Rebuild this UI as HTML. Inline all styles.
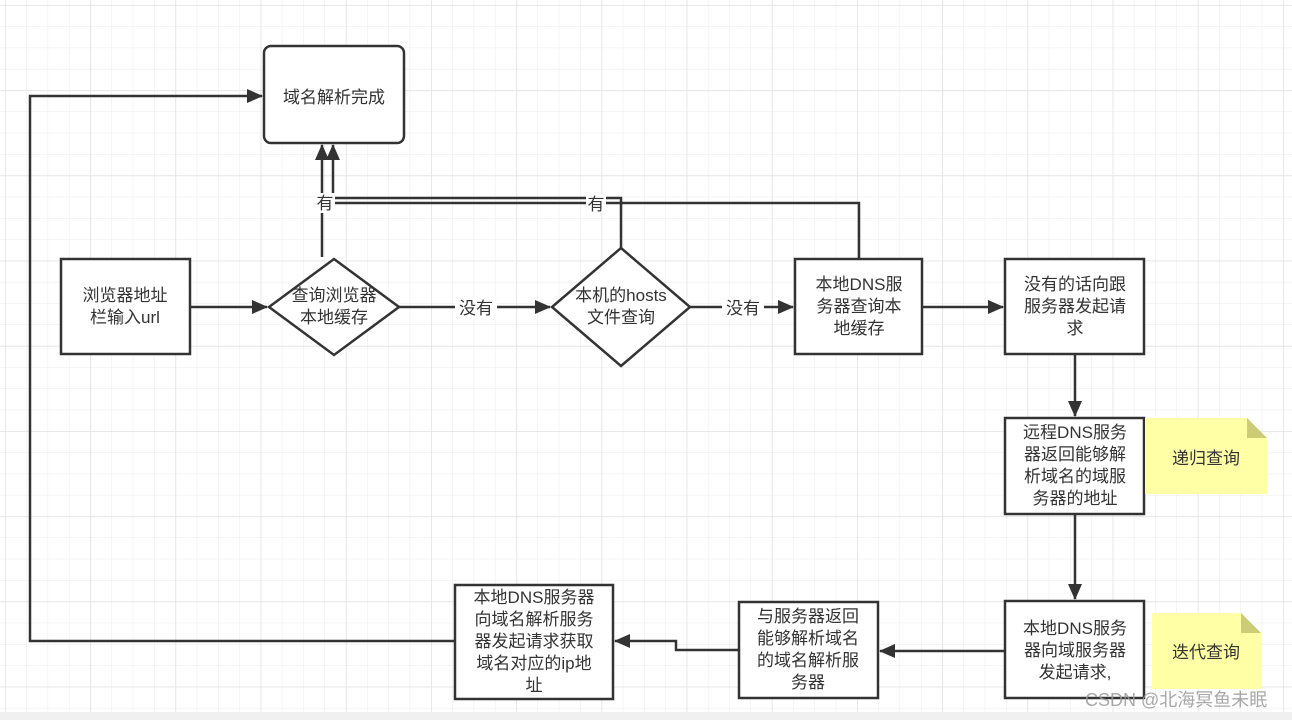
<!DOCTYPE html>
<html><head><meta charset="utf-8"><style>
html,body{margin:0;padding:0;width:1292px;height:720px;overflow:hidden;background:#fff}
svg{position:absolute;left:0;top:0}
text{font-family:"Liberation Sans","Noto Sans CJK SC",sans-serif;font-size:17px;fill:#333}
</style></head><body>
<svg width="1292" height="720" xmlns="http://www.w3.org/2000/svg">
<defs>
<pattern id="g" width="21.3" height="21.3" patternUnits="userSpaceOnUse" x="5" y="5">
<path d="M0 0H21.3M0 0V21.3" stroke="#ebebeb" stroke-width="1" fill="none"/>
</pattern>
<pattern id="G" width="85.2" height="85.2" patternUnits="userSpaceOnUse" x="5" y="5">
<path d="M0 0H85.2M0 0V85.2" stroke="#e2e2e2" stroke-width="1.5" fill="none"/>
</pattern>
<marker id="b" markerWidth="16" markerHeight="14" refX="15" refY="7" orient="auto" markerUnits="userSpaceOnUse">
<path d="M0 0L16 7L0 14Z" fill="#333"/>
</marker>
</defs>
<rect width="1292" height="720" fill="url(#g)"/>
<rect width="1292" height="720" fill="url(#G)"/>
<rect x="0" y="712" width="1292" height="8" fill="#f0f0f0"/>
<g stroke="#333" stroke-width="2.5" fill="none">
<path d="M455 641H30V96H262" marker-end="url(#b)"/>
<path d="M190 307H267" marker-end="url(#b)"/>
<path d="M399 307H550" marker-end="url(#b)"/>
<path d="M690 307H793" marker-end="url(#b)"/>
<path d="M922 307H1003" marker-end="url(#b)"/>
<path d="M322 257V145" marker-end="url(#b)"/>
<path d="M621 248V198H333" />
<path d="M859 259V203H333V145" marker-end="url(#b)"/>
<path d="M1075 354V416" marker-end="url(#b)"/>
<path d="M1075 514V599" marker-end="url(#b)"/>
<path d="M1005 651H880" marker-end="url(#b)"/>
<path d="M739 650H676V641H615" marker-end="url(#b)"/>
</g>
<g stroke="#333" stroke-width="2.5" fill="#fff">
<rect x="264" y="46" width="140" height="97" rx="7"/>
<rect x="61" y="259" width="129" height="95"/>
<path d="M334 259L399 307L334 355L269 307Z"/>
<path d="M621 248L690 307L621 366L552 307Z"/>
<rect x="795" y="259" width="127" height="95"/>
<rect x="1005" y="259" width="139" height="95"/>
<rect x="1005" y="418" width="139" height="96"/>
<rect x="1005" y="601" width="139" height="97"/>
<rect x="739" y="602" width="139" height="96"/>
<rect x="455" y="585" width="158" height="114"/>
</g>
<path d="M1145 418H1247L1267 438V494H1145Z" fill="#ffffa6"/>
<path d="M1247 418L1267 438H1247Z" fill="#cccc77"/>
<path d="M1152 613H1241L1261 633V689H1152Z" fill="#ffffa6"/>
<path d="M1241 613L1261 633H1241Z" fill="#cccc77"/>
<rect x="315" y="193" width="20" height="20" fill="#fff"/>
<rect x="586" y="194" width="20" height="20" fill="#fff"/>
<rect x="455" y="297" width="42" height="22" fill="#fff"/>
<rect x="722" y="297" width="42" height="22" fill="#fff"/>
<g text-anchor="middle">
<text x="334" y="103">域名解析完成</text>
<text x="125" y="301">浏览器地址</text><text x="125" y="323">栏输入url</text>
<text x="334" y="301">查询浏览器</text><text x="334" y="323">本地缓存</text>
<text x="621" y="301">本机的hosts</text><text x="621" y="323">文件查询</text>
<text x="859" y="290">本地DNS服</text><text x="859" y="312">务器查询本</text><text x="859" y="334">地缓存</text>
<text x="1075" y="290">没有的话向跟</text><text x="1075" y="312">服务器发起请</text><text x="1075" y="334">求</text>
<text x="1075" y="438">远程DNS服务</text><text x="1075" y="460">器返回能够解</text><text x="1075" y="482">析域名的域服</text><text x="1075" y="504">务器的地址</text>
<text x="1075" y="634">本地DNS服务</text><text x="1075" y="656">器向域服务器</text><text x="1075" y="678">发起请求,</text>
<text x="808" y="622">与服务器返回</text><text x="808" y="644">能够解析域名</text><text x="808" y="666">的域名解析服</text><text x="808" y="688">务器</text>
<text x="534" y="603">本地DNS服务器</text><text x="534" y="625">向域名解析服务</text><text x="534" y="647">器发起请求获取</text><text x="534" y="669">域名对应的ip地</text><text x="534" y="691">址</text>
<text x="325" y="209">有</text>
<text x="596" y="210">有</text>
<text x="476" y="314">没有</text>
<text x="743" y="314">没有</text>
<text x="1206" y="464">递归查询</text>
<text x="1206" y="658">迭代查询</text>
</g>
<text x="1085" y="706" style="font-size:18px;fill:#999;opacity:0.85">CSDN @北海冥鱼未眠</text>
</svg>
</body></html>
